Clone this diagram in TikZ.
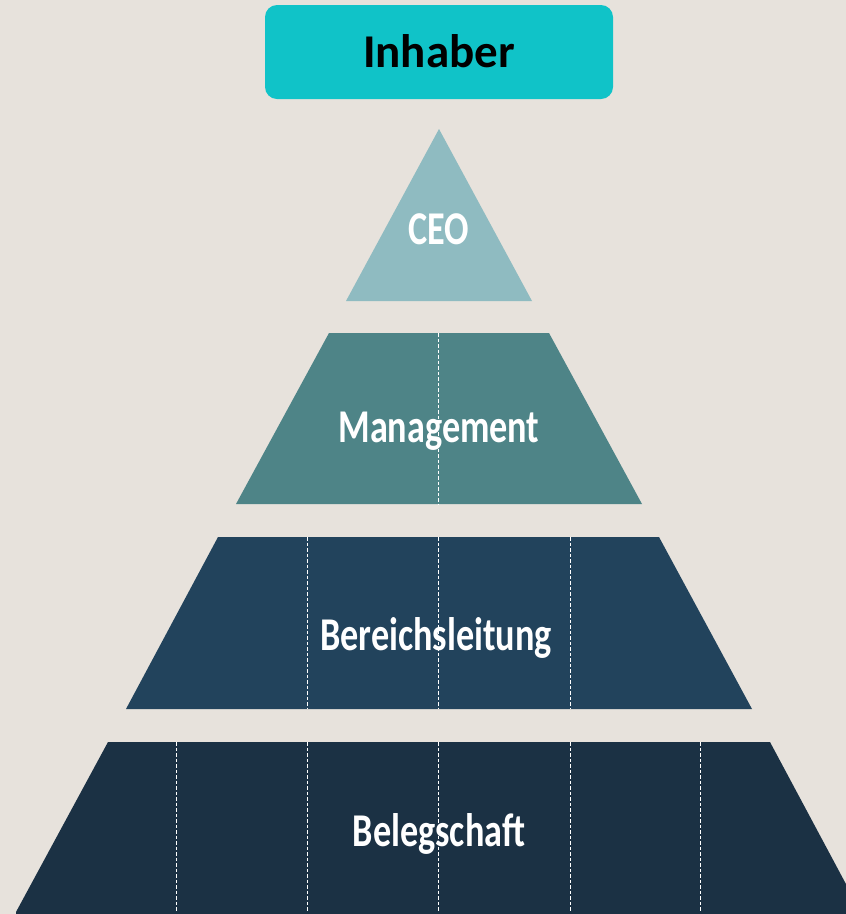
\documentclass[tikz,border=0pt]{standalone}
\usepackage{fontspec}
\usepackage{graphicx}
\setmainfont{Carlito}
\definecolor{bgc}{HTML}{E7E2DC}
\definecolor{ownerc}{HTML}{10C3C8}
\definecolor{ceoc}{HTML}{8FBBC1}
\definecolor{mgmtc}{HTML}{4E8487}
\definecolor{bereichc}{HTML}{22435C}
\definecolor{belegc}{HTML}{1B3144}
\tikzset{
  divider/.style={draw=white, line width=0.9pt, dash pattern=on 3.5pt off 2pt},
  lbl/.style={text=white, anchor=base, inner sep=0pt, font=\bfseries\fontsize{47}{47}\selectfont},
}
\newcommand{\sq}[1]{\scalebox{0.77}[1]{#1}}
\begin{document}
\begin{tikzpicture}[x=1pt,y=-1pt]
\fill[bgc] (0,0) rectangle (846,914);
\useasboundingbox (0,0) rectangle (846,914);
% owner box
\node[fill=ownerc, rounded corners=12pt, minimum width=348pt, minimum height=94pt, inner sep=0pt] (owner) at (439,52) {};
\node[anchor=base, inner sep=0pt, font=\bfseries\fontsize{47}{47}\selectfont] (ownertxt) at (439,67) {Inhaber};
% CEO triangle
\fill[ceoc] (439,129) -- (532,301) -- (346,301) -- cycle;
\node[lbl] (ceo) at (439,244) {\sq{CEO}};
% Management
\fill[mgmtc] (329,333) -- (549,333) -- (642,504) -- (236,504) -- cycle;
\coordinate (m1t) at (438,333); \coordinate (m1b) at (438,504);
\draw[divider] (m1t) -- (m1b);
\node[lbl] (mgmt) at (439,442) {\sq{Management}};
% Bereichsleitung
\fill[bereichc] (218,537) -- (659,537) -- (752,709) -- (126,709) -- cycle;
\foreach \xx/\nm in {307/b1,438/b2,570/b3}{
  \coordinate (\nm t) at (\xx,537); \coordinate (\nm b) at (\xx,709);
  \draw[divider] (\nm t) -- (\nm b);
}
\node[lbl] (bereich) at (436,650) {\sq{Bereichsleitung}};
% Belegschaft
\fill[belegc] (108,742) -- (770,742) -- (862,914) -- (16,914) -- (16,912) -- cycle;
\foreach \xx/\nm in {176/c1,307/c2,438/c3,570/c4,700/c5}{
  \coordinate (\nm t) at (\xx,742); \coordinate (\nm b) at (\xx,912);
  \draw[divider] (\nm t) -- (\nm b);
}
\node[lbl] (beleg) at (439,846) {\sq{Belegschaft}};
\end{tikzpicture}
\end{document}
